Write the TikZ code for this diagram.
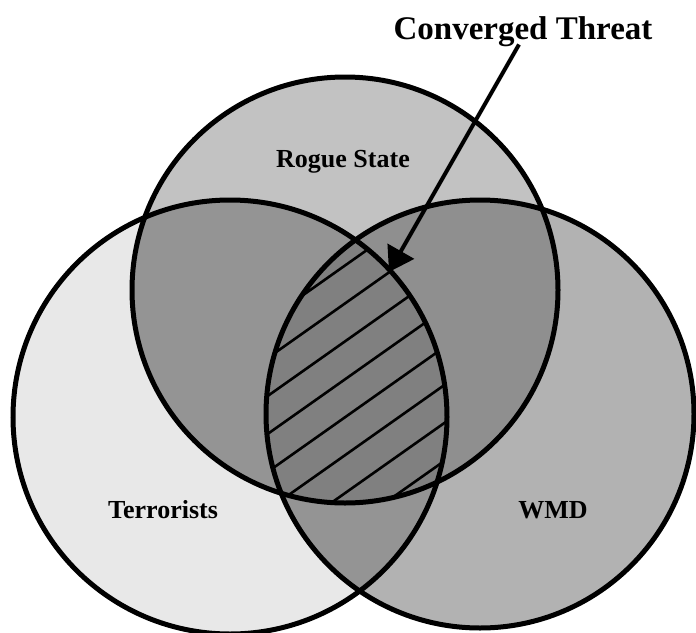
\documentclass[tikz,border=0pt]{standalone}
\usepackage{fontspec}
\setmainfont{Liberation Serif}
\usetikzlibrary{arrows.meta}
\tikzset{
  ring/.style={draw=black,line width=5pt},
  hatchline/.style={draw=black,line width=2.6pt},
  lbl/.style={font=\bfseries\fontsize{26}{28}\selectfont,inner sep=0pt,anchor=base},
  pointer/.style={draw=black,line width=4pt,-{Triangle[length=24pt,width=30pt]}},
}
\begin{document}
\begin{tikzpicture}[x=1pt,y=-1pt]
\useasboundingbox (0,0) rectangle (696,632);
\coordinate (T) at (345,290);
\coordinate (L) at (230,417);
\coordinate (R) at (480,414);
\def\rT{213}\def\rL{217}\def\rR{214}
% single regions
\fill[black!9] (L) circle[radius=\rL];
\fill[black!24] (T) circle[radius=\rT];
\fill[black!30] (R) circle[radius=\rR];
% pairwise overlaps
\begin{scope}\clip (T) circle[radius=\rT]; \fill[black!42] (L) circle[radius=\rL]; \end{scope}
\begin{scope}\clip (T) circle[radius=\rT]; \fill[black!44] (R) circle[radius=\rR]; \end{scope}
\begin{scope}\clip (L) circle[radius=\rL]; \fill[black!42] (R) circle[radius=\rR]; \end{scope}
% triple overlap with hatching
\begin{scope}
  \clip (T) circle[radius=\rT];
  \clip (L) circle[radius=\rL];
  \clip (R) circle[radius=\rR];
  \fill[black!50] (T) circle[radius=\rT];
  \foreach \k in {0,...,7}
    \draw[hatchline] ({345+17.86*\k-245},{265.5+25.33*\k+173}) -- ({345+17.86*\k+245},{265.5+25.33*\k-173});
\end{scope}
% outlines
\draw[ring] (L) circle[radius=\rL];
\draw[ring] (T) circle[radius=\rT];
\draw[ring] (R) circle[radius=\rR];
% labels
\node[lbl] (rogue) at (343,167) {Rogue State};
\node[lbl] (terr) at (163,518) {Terrorists};
\node[lbl] (wmd) at (553,518) {WMD};
\node[lbl,font=\bfseries\fontsize{33}{36}\selectfont] (ct) at (523,39) {Converged Threat};
\coordinate (tip) at (389,272);
\draw[pointer] ([xshift=-4pt,yshift=2pt]ct.south) -- (tip);
\end{tikzpicture}
\end{document}
